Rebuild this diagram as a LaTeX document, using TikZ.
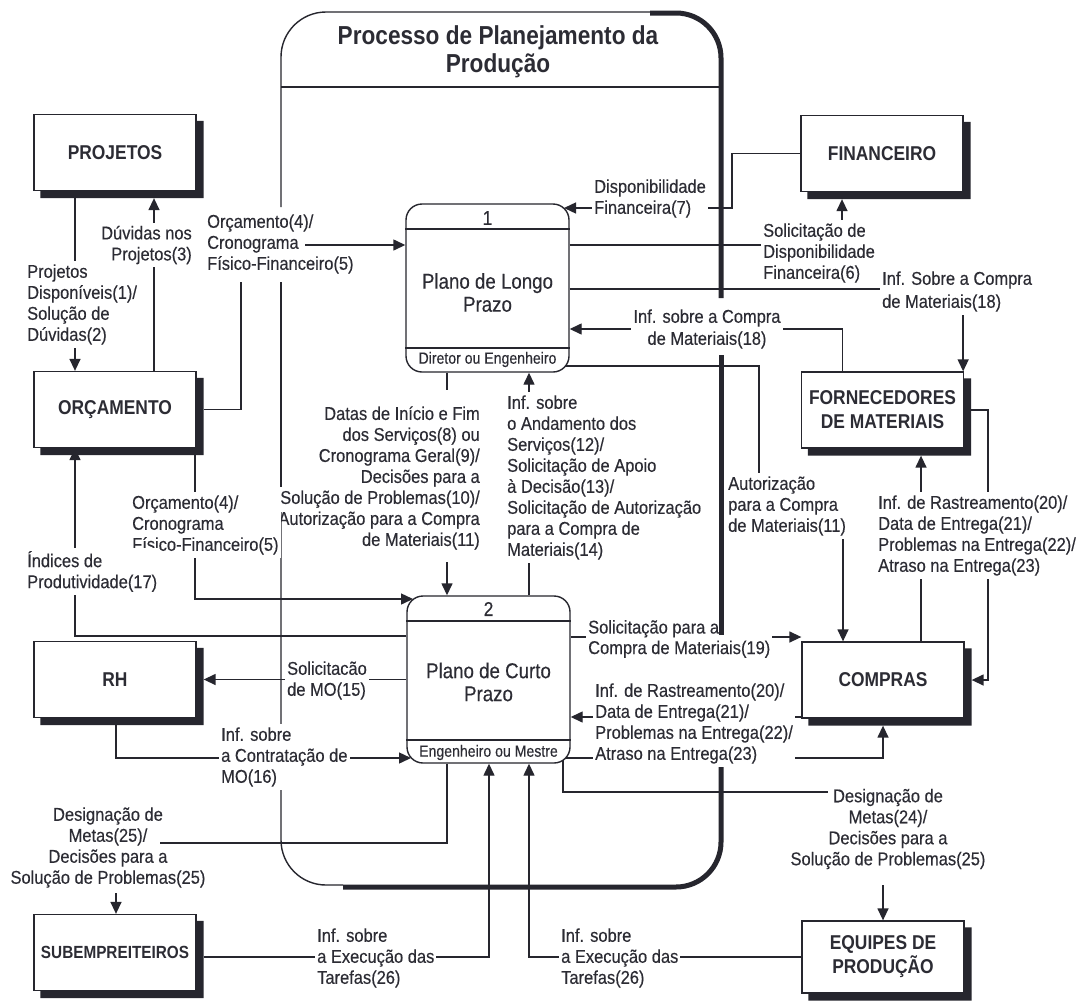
\documentclass[tikz,border=0pt]{standalone}
\usepackage{fontspec}
\setmainfont{Liberation Sans}
\newfontfamily\cf{Liberation Sans}[FakeStretch=0.89, FakeBold=0.3]
\newfontfamily\cb{Liberation Sans}[FakeStretch=0.87]
\newfontfamily\cp{Liberation Sans}[FakeStretch=0.87, FakeBold=0.3]
\usetikzlibrary{arrows.meta,calc}
\definecolor{ink}{HTML}{26262E}
\definecolor{txt}{HTML}{2C2C34}
\newcommand\labfont{\cf\fontsize{18.5}{21}\selectfont}
\newcommand\eshadow[1]{\fill[ink] ($(#1.north east)+(0,7)$) -- ($(#1.north east)+(7,7)$) -- ($(#1.south east)+(7,7)$) -- ($(#1.south west)+(7,7)$) -- ($(#1.south west)+(7,0)$) -- (#1.south east) -- cycle;}
\begin{document}
\begin{tikzpicture}[x=1pt,y=-1pt,
  ln/.style={draw=ink, line width=1.4pt},
  arr/.style={ln, -{Triangle[length=12pt,width=11pt]}},
  thickb/.style={draw=ink, line width=5pt},
  ent/.style={draw=ink, line width=1.3pt, fill=white, minimum width=162pt, minimum height=76pt, inner sep=0pt, align=center, text=txt, font=\cb\bfseries\fontsize{20}{24}\selectfont},
  proc/.style={draw=ink, line width=1.4pt, fill=white, rounded corners=16pt, minimum width=163pt, minimum height=167pt, inner sep=0pt},
  ptext/.style={text=txt, font=\cp\fontsize{21.5}{23}\selectfont, align=center, inner sep=0pt},
  pnum/.style={text=txt, font=\cp\fontsize{20}{22}\selectfont, inner sep=0pt},
  prole/.style={text=txt, font=\cp\fontsize{16.2}{18}\selectfont, inner sep=0pt},
  lab/.style={text=txt, font=\labfont, inner xsep=2pt, inner ysep=3pt},
  labf/.style={lab, fill=white},
  labl/.style={align=left, anchor=west},
  labr/.style={align=right, anchor=east}
]
\fill[white] (0,0) rectangle (1083,1001);
\path[use as bounding box] (0,0) rectangle (1083,1001);

% process frame (thin part)
\draw[ln, rounded corners=45pt] (650,12) -- (281,12) -- (281,207);
\draw[ln] (281,282) -- (281,487);
\draw[ln, rounded corners=45pt] (281,512) -- (281,885) -- (343,885);
\draw[ln] (281,87) -- (720,87);
\node[text=txt, font=\cb\bfseries\fontsize{26}{28}\selectfont, align=center, inner sep=0pt] (title) at (498,52) {Processo de Planejamento da\\Produção};

% processes
\node[proc, minimum height=168pt] (P1) at (487.5,288) {};
\draw[ln, line width=1.2pt] (P1.west |- 0,229) -- (P1.east |- 0,229);
\draw[ln, line width=1.2pt] (P1.west |- 0,348) -- (P1.east |- 0,348);
\node[pnum] (P1num) at (487.5,218) {1};
\node[ptext] (P1txt) at (487.5,292.5) {Plano de Longo\\Prazo};
\node[prole] (P1role) at (487.5,359.5) {Diretor ou Engenheiro};

\node[proc] (P2) at (488.5,679.5) {};
\draw[ln, line width=1.2pt] (P2.west |- 0,621) -- (P2.east |- 0,621);
\draw[ln, line width=1.2pt] (P2.west |- 0,740) -- (P2.east |- 0,740);
\node[pnum] (P2num) at (488.5,609) {2};
\node[ptext] (P2txt) at (488.5,682) {Plano de Curto\\Prazo};
\node[prole] (P2role) at (488.5,752.5) {Engenheiro ou Mestre};

% external entities
\node[ent] (proj) at (115,152.5) {PROJETOS};
\node[ent] (orc) at (115,409.5) {ORÇAMENTO};
\node[ent] (rh) at (115,679.5) {RH};
\node[ent, font=\cb\bfseries\fontsize{17.6}{22}\selectfont] (sub) at (115,952.5) {SUBEMPREITEIROS};
\node[ent] (fin) at (882,153.5) {FINANCEIRO};
\node[ent] (forn) at (882.5,410) {FORNECEDORES\\DE MATERIAIS};
\node[ent] (comp) at (883,680) {COMPRAS};
\node[ent, minimum height=72pt] (equip) at (883,957) {EQUIPES DE\\PRODUÇÃO};
\eshadow{proj}
\eshadow{orc}
\eshadow{rh}
\eshadow{sub}
\eshadow{fin}
\eshadow{forn}
\eshadow{comp}
\eshadow{equip}

% connectors
\draw[arr] ($(proj.south)+(-40,0)$) -- ($(orc.north)+(-40,0)$);
\draw[arr] ($(orc.north)+(39,0)$) -- ($(proj.south)+(39,7)$);
\coordinate (c3a) at (241,282);
\coordinate (c3b) at (305,245);
\draw[ln] ($(orc.east)+(7,0)$) -| (c3a);
\draw[arr] (c3b) -- (P1.west |- c3b);
\draw[arr] (fin.west) -| (732,208) -- (564,208);
\draw[arr] (P1.east |- 0,245) -| ($(fin.south)+(-40,7)$);
\draw[arr] (P1.east |- 0,289) -| ($(forn.north east)+(-1,0)$);
\draw[arr] ($(forn.north)+(-40,0)$) |- (P1.east |- 0,329);
\draw[arr] (565,366) -- (759,366) -- (759,530) -| ($(comp.north)+(-40,0)$);
\coordinate (cFa) at (447,390);
\coordinate (cFb) at (447,562);
\draw[ln] (P1.south -| cFa) -- (cFa);
\draw[arr] (cFb) -- (P2.north -| cFb);
\draw[arr] (P2.north -| 529,0) -- (P1.south -| 529,0);
\draw[arr] ($(orc.south)+(80,7)$) |- (413,599);
\draw[arr] (P2.west |- 0,636) -| (orc.south -| 75,0);
\draw[arr] (P2.west |- rh.east) -- ($(rh.east)+(7,0)$);
\draw[arr] ($(rh.south)+(1,7)$) |- (411,758);
\coordinate (cLa) at (160,843);
\coordinate (cLb) at (116,893);
\draw[ln] (P2.south -| 447,0) |- (cLa);
\draw[arr] (cLb) -- (sub.north -| cLb);
\coordinate (cMa) at (828,792);
\coordinate (cMb) at (883,885);
\draw[ln] (563,760) |- (cMa);
\draw[arr] (cMb) -- (equip.north);
\draw[arr] (comp.west |- 0,717) -- (P2.east |- 0,717);
\draw[arr] (566,758) -| ($(comp.south)+(0,7)$);
\draw[arr] (P2.east |- 0,637) -- (comp.west |- 0,637);
\draw[arr] ($(comp.north)+(38,0)$) -- ($(forn.south)+(38.5,7)$);
\draw[arr] ($(forn.east)+(7,0)$) -- (988,410) |- ($(comp.east)+(7,0)$);
\draw[arr] ($(sub.east |- 0,957)+(7,0)$) -| (P2.south -| 489,0);
\draw[arr] (equip.west |- 0,957) -| (P2.south -| 529,0);

% labels
\node[labf, labl] (l1) at (25,304.5) {Projetos\\Disponíveis(1)/\\Solução de\\Dúvidas(2)};
\node[labf, labr] (l2) at (194,245) {Dúvidas nos\\Projetos(3)};
\node[lab, labl] (l3) at (205,244) {Orçamento(4)/\\Cronograma\\Físico-Financeiro(5)};
\node[labf, labl] (l4) at (592,198.5) {Disponibilidade\\Financeira(7)};
\node[labf, labl] (l5) at (761,253) {Solicitação de\\Disponibilidade\\Financeira(6)};
\node[labf, labl, font=\cf\fontsize{18.5}{23}\selectfont] (l6) at (880,291.5) {Inf. Sobre a Compra\\de Materiais(18)};
\node[labf, align=center, font=\cf\fontsize{18.5}{22}\selectfont] (l7) at (707,329) {Inf. sobre a Compra\\de Materiais(18)};
\node[labf, labl] (l8) at (726,506) {Autorização\\para a Compra\\de Materiais(11)};
\node[lab, labr] (l9) at (482,478) {Datas de Início e Fim\\dos Serviços(8) ou\\Cronograma Geral(9)/\\Decisões para a\\Solução de Problemas(10)/\\Autorização para a Compra\\de Materiais(11)};
\node[labf, labl] (l10) at (505,477.5) {Inf. sobre\\o Andamento dos\\Serviços(12)/\\Solicitação de Apoio\\à Decisão(13)/\\Solicitação de Autorização\\para a Compra de\\Materiais(14)};
\node[labf, labl] (l11) at (130,525) {Orçamento(4)/\\Cronograma\\Físico-Financeiro(5)};
\node[labf, labl] (l12) at (25,571.5) {Índices de\\Produtividade(17)};
\node[labf, labl, font=\cf\fontsize{18.5}{20.5}\selectfont] (l13) at (586,639) {Solicitação para a\\Compra de Materiais(19)};
\node[labf, labl] (l14) at (593,723.5) {Inf. de Rastreamento(20)/\\Data de Entrega(21)/\\Problemas na Entrega(22)/\\Atraso na Entrega(23)};
\node[labf, labl] (l15) at (876,535.5) {Inf. de Rastreamento(20)/\\Data de Entrega(21)/\\Problemas na Entrega(22)/\\Atraso na Entrega(23)};
\node[labf, labl] (l16) at (285,680.5) {Solicitacão\\de MO(15)};
\node[labf, labl] (l17) at (219,757) {Inf. sobre\\a Contratação de\\MO(16)};
\node[lab, align=center] (l18) at (108,847.5) {Designação de\\Metas(25)/\\Decisões para a\\Solução de Problemas(25)};
\node[lab, align=center] (l19) at (888,829) {Designação de\\Metas(24)/\\Decisões para a\\Solução de Problemas(25)};
\node[labf, labl] (l20) at (315,958) {Inf. sobre\\a Execução das\\Tarefas(26)};
\node[labf, labl] (l21) at (559,958) {Inf. sobre\\a Execução das\\Tarefas(26)};

% process frame (thick part)
\draw[thickb, rounded corners=45pt] (650,13) -- (721,13) -- (721,298);
\draw[thickb] (721,355) -- (721,635);
\draw[thickb, rounded corners=45pt] (721,767) -- (721,887) -- (343,887);
\end{tikzpicture}
\end{document}
